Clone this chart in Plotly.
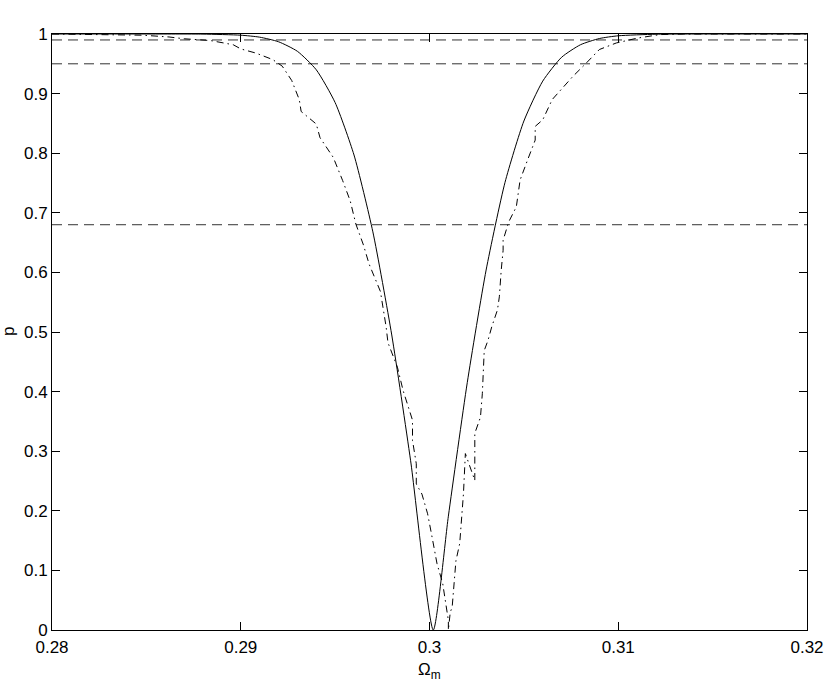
import plotly.graph_objects as go

# solid curve (analytic-looking confidence curve)
solid_omega = [0.280, 0.285, 0.288, 0.290, 0.291, 0.292, 0.293, 0.294, 0.295,
               0.296, 0.297, 0.298, 0.299, 0.3002, 0.301, 0.302, 0.303, 0.304,
               0.305, 0.306, 0.307, 0.308, 0.309, 0.310, 0.312, 0.315, 0.320]
solid_p = [1.0, 1.0, 0.9998, 0.998, 0.9947, 0.987, 0.971, 0.940, 0.885,
           0.797, 0.668, 0.495, 0.284, 0.0, 0.191, 0.415, 0.604, 0.751,
           0.854, 0.921, 0.961, 0.982, 0.9924, 0.997, 0.9996, 1.0, 1.0]

# dash-dot curve (empirical, jagged)
dd_omega = [0.2800, 0.2820, 0.2848, 0.2862, 0.2870, 0.2884, 0.2896, 0.2900,
            0.2908, 0.2917, 0.2922, 0.2927, 0.2931, 0.2932, 0.2940, 0.2942,
            0.2949, 0.2954, 0.2958, 0.2961, 0.2965, 0.2968, 0.2974, 0.2977,
            0.2978, 0.2983, 0.2986, 0.2991, 0.2991, 0.2993, 0.2993, 0.2996,
            0.2999, 0.3001, 0.3004, 0.3007, 0.3010, 0.3010,
            0.3011, 0.3012, 0.3013, 0.3014, 0.3016, 0.3017, 0.3018, 0.3019,
            0.3024, 0.3024, 0.3027, 0.3028, 0.3029, 0.3031, 0.3033, 0.3036,
            0.3037, 0.3038, 0.3039, 0.3039, 0.3042, 0.3046, 0.3048, 0.3052,
            0.3056, 0.3056, 0.3060, 0.3065, 0.3071, 0.3076, 0.3083, 0.3090,
            0.3099, 0.3110, 0.3122, 0.3135, 0.3200]
dd_p = [1.000, 0.999, 0.998, 0.995, 0.992, 0.989, 0.982, 0.975,
        0.968, 0.957, 0.946, 0.922, 0.890, 0.870, 0.849, 0.826,
        0.793, 0.754, 0.720, 0.681, 0.646, 0.614, 0.568, 0.509,
        0.482, 0.441, 0.402, 0.352, 0.318, 0.279, 0.245, 0.228,
        0.195, 0.162, 0.111, 0.078, 0.016, 0.0,
        0.030, 0.038, 0.072, 0.116, 0.145, 0.184, 0.229, 0.296,
        0.251, 0.330, 0.357, 0.397, 0.469, 0.486, 0.509, 0.537,
        0.559, 0.604, 0.637, 0.654, 0.685, 0.710, 0.755, 0.789,
        0.822, 0.845, 0.856, 0.890, 0.912, 0.929, 0.951, 0.974,
        0.985, 0.993, 0.999, 1.000, 1.000]

# confidence levels (horizontal dashed lines)
levels = [0.99, 0.95, 0.68]
x_range = [0.28, 0.32]

x_ticks = [0.28, 0.29, 0.30, 0.31, 0.32]
x_ticklabels = ["0.28", "0.29", "0.3", "0.31", "0.32"]
y_ticks = [0, 0.1, 0.2, 0.3, 0.4, 0.5, 0.6, 0.7, 0.8, 0.9, 1]
y_ticklabels = ["0", "0.1", "0.2", "0.3", "0.4", "0.5", "0.6", "0.7", "0.8", "0.9", "1"]

fig = go.Figure()

for lv in levels:
    fig.add_trace(go.Scatter(
        x=x_range, y=[lv, lv], mode="lines",
        line=dict(color="#333333", width=1, dash="10px,6px"),
        showlegend=False, hoverinfo="skip"
    ))

fig.add_trace(go.Scatter(
    x=solid_omega, y=solid_p, mode="lines",
    line=dict(color="black", width=1, shape="spline", smoothing=0.6),
    showlegend=False
))

fig.add_trace(go.Scatter(
    x=dd_omega, y=dd_p, mode="lines",
    line=dict(color="black", width=1, dash="7px,4px,1.5px,4px"),
    showlegend=False
))

axis_common = dict(
    showgrid=False, zeroline=False, automargin=False,
    showline=True, linecolor="black", linewidth=1, mirror="ticks",
    ticks="inside", ticklen=8, tickwidth=1, tickcolor="black",
    tickfont=dict(size=17, color="black"),
)

fig.update_xaxes(range=x_range, tickvals=x_ticks, ticktext=x_ticklabels,
                 ticklabelstandoff=2, **axis_common)
fig.update_yaxes(range=[0, 1], tickvals=y_ticks, ticktext=y_ticklabels, **axis_common)

# axis titles
fig.add_annotation(
    x=0.5, y=0, xref="paper", yref="paper", yshift=-41,
    text="Ω<sub>m</sub>", showarrow=False, font=dict(size=17, color="black"),
    xanchor="center", yanchor="middle"
)
fig.add_annotation(
    x=0, y=0.5, xref="paper", yref="paper", xshift=-44,
    text="p", textangle=-90, showarrow=False, font=dict(size=17, color="black"),
    xanchor="center", yanchor="middle"
)

fig.update_layout(
    width=830, height=682,
    margin=dict(l=52, r=23, t=34, b=52),
    plot_bgcolor="white", paper_bgcolor="white",
    font=dict(family="Liberation Sans, Arial, sans-serif", color="black"),
)

fig.write_html("out.html", config={"displayModeBar": False},
               post_script="document.body.style.margin='0';")
